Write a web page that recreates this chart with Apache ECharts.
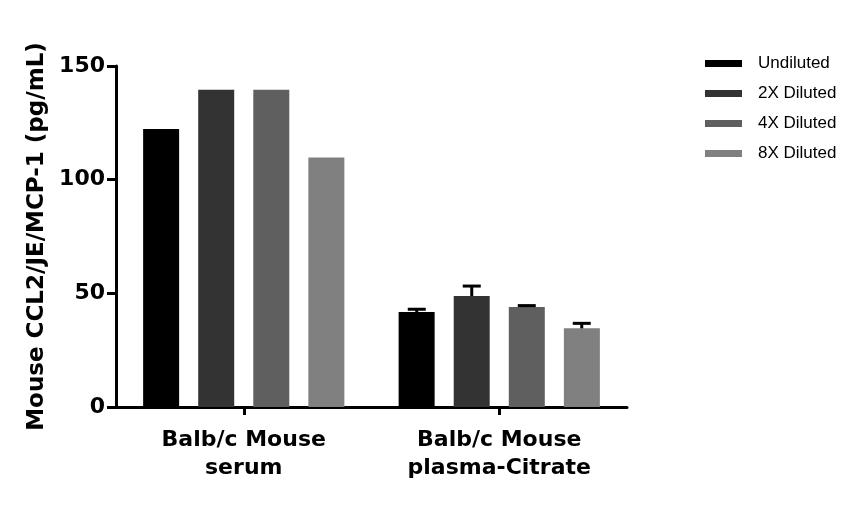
<!DOCTYPE html>
<html><head><meta charset="utf-8">
<script src="https://cdn.jsdelivr.net/npm/echarts@6/dist/echarts.min.js"></script>
<style>html,body{margin:0;padding:0;background:#fff}#c{width:867px;height:507px}</style>
</head><body><div id="c"></div>
<script>
var categories = ['Balb/c Mouse\nserum', 'Balb/c Mouse\nplasma-Citrate'];
var seriesNames = ['Undiluted', '2X Diluted', '4X Diluted', '8X Diluted'];
var undiluted = [122.3, 41.8];
var diluted2x = [139.5, 48.8];
var diluted4x = [139.6, 44.0];
var diluted8x = [109.8, 34.6];
var errUndiluted = [0, 1.2];
var err2x = [0, 4.4];
var err4x = [0, 0.6];
var err8x = [0, 2.2];
var colors = ['#000000', '#333333', '#5f5f5f', '#808080'];
var yTicks = [0, 50, 100, 150];

var means = [undiluted, diluted2x, diluted4x, diluted8x];
var errs = [errUndiluted, err2x, err4x, err8x];
var barW = 36, step = 55;

var chart = echarts.init(document.getElementById('c'));
var series = [];
means.forEach(function (m, i) {
  series.push({
    name: seriesNames[i], type: 'bar', data: m, barWidth: barW, barGap: '53%',
    itemStyle: { color: colors[i] }, z: 2
  });
});
means.forEach(function (m, i) {
  var data = m.map(function (v, k) { return [k, v, errs[i][k]]; }).filter(function (d) { return d[2] > 0; });
  series.push({
    type: 'custom', name: seriesNames[i] + ' err', data: data, z: 3, silent: true,
    renderItem: function (params, api) {
      var c = api.value(0), v = api.value(1), e = api.value(2);
      var p0 = api.coord([c, v]);
      var p1 = api.coord([c, v + e]);
      var x = p0[0] + (i - 1.5) * step;
      return { type: 'group', children: [
        { type: 'line', shape: { x1: x, y1: p0[1], x2: x, y2: p1[1] }, style: { stroke: '#000', lineWidth: 3 } },
        { type: 'line', shape: { x1: x - 9, y1: p1[1], x2: x + 9, y2: p1[1] }, style: { stroke: '#000', lineWidth: 3 } }
      ]};
    }
  });
});

chart.setOption({
  animation: false,
  backgroundColor: '#fff',
  grid: { left: 116, right: 240, top: 66, bottom: 100, containLabel: false },
  legend: {
    data: seriesNames, orient: 'vertical', left: 700, top: 50,
    icon: 'rect', itemWidth: 37, itemHeight: 7, itemGap: 13,
    textStyle: { fontFamily: 'Liberation Sans, Arial', fontSize: 17, color: '#000', padding: [0, 0, 0, 11] }
  },
  xAxis: {
    type: 'category', data: categories,
    axisLine: { lineStyle: { color: '#000', width: 3 } },
    axisTick: { show: true, alignWithLabel: true, length: 8, lineStyle: { width: 3, color: '#000' } },
    axisLabel: { fontFamily: 'DejaVu Sans', fontWeight: 'bold', fontSize: 22, color: '#000', lineHeight: 28, margin: 19 }
  },
  yAxis: {
    type: 'value', min: 0, max: 150, interval: 50,
    name: 'Mouse CCL2/JE/MCP-1 (pg/mL)', nameLocation: 'middle', nameRotate: 90, nameGap: 60,
    nameTextStyle: { fontFamily: 'DejaVu Sans', fontWeight: 'bold', fontSize: 23, color: '#000' },
    axisLine: { show: true, lineStyle: { color: '#000', width: 3 } },
    axisTick: { show: true, length: 9, lineStyle: { width: 3, color: '#000' } },
    splitLine: { show: false },
    axisLabel: { fontFamily: 'DejaVu Sans', fontWeight: 'bold', fontSize: 22, color: '#000', margin: 11,
      formatter: function (v) { return yTicks.indexOf(v) >= 0 ? String(v) : ''; } }
  },
  series: series
});
</script></body></html>
